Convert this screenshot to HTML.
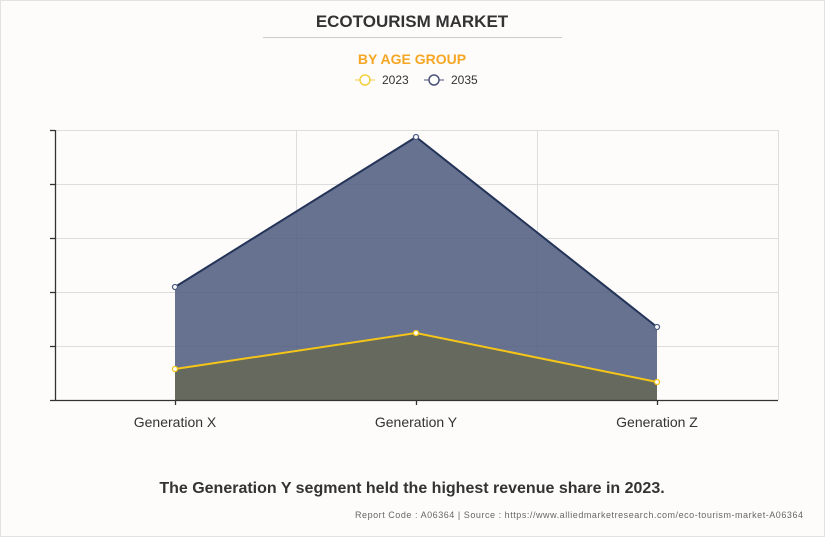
<!DOCTYPE html>
<html><head><style>
body{margin:0;background:#fff}
.w{position:relative;width:823px;height:535px;border:1px solid #e2e2e2;background:#fdfcfb;font-family:"Liberation Sans",sans-serif}
</style></head><body><div class="w">
<svg width="823" height="535" viewBox="1 1 823 535" style="position:absolute;left:0;top:0" font-family="Liberation Sans, sans-serif">
<text x="412" y="27" text-anchor="middle" font-size="17" font-weight="bold" fill="#333">ECOTOURISM MARKET</text>
<line x1="263" y1="37.5" x2="562" y2="37.5" stroke="#ccc"/>
<text x="412" y="64" text-anchor="middle" font-size="14" font-weight="bold" fill="#f5a623">BY AGE GROUP</text>
<line x1="355" y1="80" x2="375" y2="80" stroke="#f5d040"/><circle cx="365" cy="80" r="5" fill="#fff" stroke="#f5d040" stroke-width="1.5"/>
<text x="382" y="84" font-size="12" fill="#333">2023</text>
<line x1="424" y1="80" x2="444" y2="80" stroke="#4a5578"/><circle cx="434" cy="80" r="5" fill="#fff" stroke="#4a5578" stroke-width="1.5"/>
<text x="451" y="84" font-size="12" fill="#333">2035</text>
<g stroke="#ddd" stroke-width="1">
<line x1="55" y1="130.5" x2="778" y2="130.5"/><line x1="55" y1="184.5" x2="778" y2="184.5"/><line x1="55" y1="238.5" x2="778" y2="238.5"/><line x1="55" y1="292.5" x2="778" y2="292.5"/><line x1="55" y1="346.5" x2="778" y2="346.5"/>
<line x1="296.5" y1="130" x2="296.5" y2="400"/><line x1="537.5" y1="130" x2="537.5" y2="400"/><line x1="778.5" y1="130" x2="778.5" y2="400"/>
</g>
<polygon points="175,287 416,137 657,327 657,400 175,400" fill="#4f5d80" fill-opacity="0.87"/>
<polyline points="175,287 416,137 657,327" fill="none" stroke="#243458" stroke-width="2"/>
<polygon points="175,369 416,333 657,382 657,400 175,400" fill="#666a5e"/>
<polyline points="175,369 416,333 657,382" fill="none" stroke="#f5c518" stroke-width="2"/>
<g fill="#fff" stroke-width="1.3">
<circle cx="175" cy="287" r="2.5" stroke="#4f5d80"/><circle cx="416" cy="137" r="2.5" stroke="#4f5d80"/><circle cx="657" cy="327" r="2.5" stroke="#4f5d80"/>
<circle cx="175" cy="369" r="2.5" stroke="#f5c518"/><circle cx="416" cy="333" r="2.5" stroke="#f5c518"/><circle cx="657" cy="382" r="2.5" stroke="#f5c518"/>
</g>
<g stroke="#333" stroke-width="1.3">
<line x1="55.5" y1="130" x2="55.5" y2="400"/><line x1="50" y1="400.5" x2="778" y2="400.5"/>
<line x1="50" y1="130.5" x2="55" y2="130.5"/><line x1="50" y1="184.5" x2="55" y2="184.5"/><line x1="50" y1="238.5" x2="55" y2="238.5"/><line x1="50" y1="292.5" x2="55" y2="292.5"/><line x1="50" y1="346.5" x2="55" y2="346.5"/>
<line x1="175.5" y1="400" x2="175.5" y2="405"/><line x1="416.5" y1="400" x2="416.5" y2="405"/><line x1="657.5" y1="400" x2="657.5" y2="405"/>
</g>
<g font-size="14" fill="#333" text-anchor="middle">
<text x="175" y="427">Generation X</text><text x="416" y="427">Generation Y</text><text x="657" y="427">Generation Z</text>
</g>
<text x="412" y="493" text-anchor="middle" font-size="16" font-weight="bold" fill="#333">The Generation Y segment held the highest revenue share in 2023.</text>
<text x="355" y="518" font-size="9" fill="#666" textLength="448" lengthAdjust="spacing">Report Code : A06364  |  Source : https://www.alliedmarketresearch.com/eco-tourism-market-A06364</text>
</svg></div></body></html>
